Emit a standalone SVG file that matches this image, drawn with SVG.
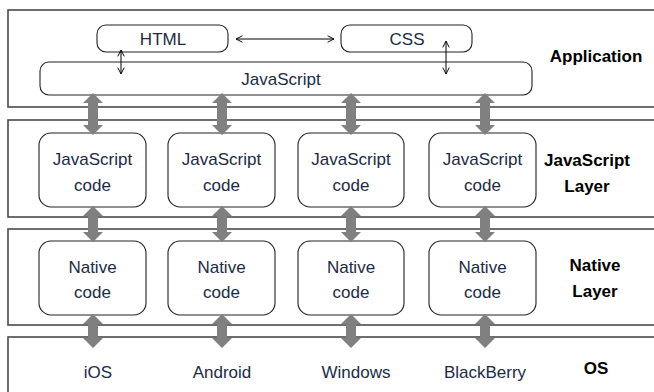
<svg xmlns="http://www.w3.org/2000/svg" width="654" height="392" viewBox="0 0 654 392">
<style>
.layer{fill:#fff;stroke:#4a4a4a;stroke-width:1.6}
.node{fill:#fff;stroke:#222;stroke-width:1.1}
.t{font-family:"Liberation Sans",Arial,sans-serif;font-size:17px;fill:#1b2a47;text-anchor:middle}
.b{font-family:"Liberation Sans",Arial,sans-serif;font-size:17px;font-weight:bold;fill:#000;text-anchor:middle}
.fat{fill:#808080}
.thin{stroke:#000;stroke-width:1;fill:none;marker-start:url(#ah);marker-end:url(#ah)}
</style>
<defs>
<marker id="ah" viewBox="0 0 10 10" refX="9" refY="5" markerWidth="8" markerHeight="8" orient="auto-start-reverse" markerUnits="userSpaceOnUse">
<path d="M1,1 L9,5 L1,9" fill="none" stroke="#000" stroke-width="1.2"/>
</marker>
<polygon id="dbl" points="0,0 10,10 4.5,10 4.5,-10 10,-10 0,0" />
</defs>
<rect width="654" height="392" fill="#fff"/>
<g id="layer-application"><rect class="layer" x="8" y="10" width="660" height="97"/><text class="b" x="596" y="62">Application</text></g>
<g id="layer-javascript"><rect class="layer" x="8" y="120" width="660" height="97"/><text class="b" x="587" y="166">JavaScript</text><text class="b" x="587" y="192">Layer</text></g>
<g id="layer-native"><rect class="layer" x="8" y="229" width="660" height="96"/><text class="b" x="595" y="271">Native</text><text class="b" x="595" y="297">Layer</text></g>
<g id="layer-os"><rect class="layer" x="8" y="337" width="660" height="70"/><text class="b" x="596" y="374">OS</text></g>
<g id="html"><rect class="node" x="97" y="25" width="131" height="27" rx="9"/><text class="t" x="163" y="45">HTML</text></g>
<g id="css"><rect class="node" x="341" y="25" width="131" height="27" rx="9"/><text class="t" x="407" y="45">CSS</text></g>
<g id="javascript"><rect class="node" x="40" y="62" width="492" height="33" rx="9"/><text class="t" x="281" y="85">JavaScript</text></g>
<g id="js1"><rect class="node" x="39" y="133" width="107" height="74" rx="12"/><text class="t" x="92.5" y="165">JavaScript</text><text class="t" x="92.5" y="191">code</text></g>
<g id="js2"><rect class="node" x="168" y="133" width="107" height="74" rx="12"/><text class="t" x="221.5" y="165">JavaScript</text><text class="t" x="221.5" y="191">code</text></g>
<g id="js3"><rect class="node" x="298" y="133" width="106" height="74" rx="12"/><text class="t" x="351" y="165">JavaScript</text><text class="t" x="351" y="191">code</text></g>
<g id="js4"><rect class="node" x="429" y="133" width="107" height="74" rx="12"/><text class="t" x="482.5" y="165">JavaScript</text><text class="t" x="482.5" y="191">code</text></g>
<g id="nat1"><rect class="node" x="39" y="241" width="107" height="74" rx="12"/><text class="t" x="92.5" y="273">Native</text><text class="t" x="92.5" y="298">code</text></g>
<g id="nat2"><rect class="node" x="168" y="241" width="107" height="74" rx="12"/><text class="t" x="221.5" y="273">Native</text><text class="t" x="221.5" y="298">code</text></g>
<g id="nat3"><rect class="node" x="298" y="241" width="106" height="74" rx="12"/><text class="t" x="351" y="273">Native</text><text class="t" x="351" y="298">code</text></g>
<g id="nat4"><rect class="node" x="429" y="241" width="107" height="74" rx="12"/><text class="t" x="482.5" y="273">Native</text><text class="t" x="482.5" y="298">code</text></g>
<g id="ios"><text class="t" x="98" y="378">iOS</text></g>
<g id="android"><text class="t" x="222" y="378">Android</text></g>
<g id="windows"><text class="t" x="356" y="378">Windows</text></g>
<g id="blackberry"><text class="t" x="485" y="378">BlackBerry</text></g>
<g id="connectors">
<line class="thin" x1="236" y1="39" x2="334" y2="39"/>
<line class="thin" x1="121" y1="50" x2="121" y2="74"/>
<line class="thin" x1="446" y1="41" x2="446" y2="74"/>
<g class="fat">
<path d="M93,93 l10,10 h-5 v22 h5 l-10,10 l-10,-10 h5 v-22 h-5 z"/>
<path d="M222,93 l10,10 h-5 v22 h5 l-10,10 l-10,-10 h5 v-22 h-5 z"/>
<path d="M351,93 l10,10 h-5 v22 h5 l-10,10 l-10,-10 h5 v-22 h-5 z"/>
<path d="M485,93 l10,10 h-5 v22 h5 l-10,10 l-10,-10 h5 v-22 h-5 z"/>
<path d="M93,206 l10,10 h-5 v16 h5 l-10,10 l-10,-10 h5 v-16 h-5 z"/>
<path d="M222,206 l10,10 h-5 v16 h5 l-10,10 l-10,-10 h5 v-16 h-5 z"/>
<path d="M351,206 l10,10 h-5 v16 h5 l-10,10 l-10,-10 h5 v-16 h-5 z"/>
<path d="M485,206 l10,10 h-5 v16 h5 l-10,10 l-10,-10 h5 v-16 h-5 z"/>
<path d="M93,314 l10,10 h-5 v14 h5 l-10,10 l-10,-10 h5 v-14 h-5 z"/>
<path d="M222,314 l10,10 h-5 v14 h5 l-10,10 l-10,-10 h5 v-14 h-5 z"/>
<path d="M351,314 l10,10 h-5 v14 h5 l-10,10 l-10,-10 h5 v-14 h-5 z"/>
<path d="M485,314 l10,10 h-5 v14 h5 l-10,10 l-10,-10 h5 v-14 h-5 z"/>
</g>
</g>
</svg>
